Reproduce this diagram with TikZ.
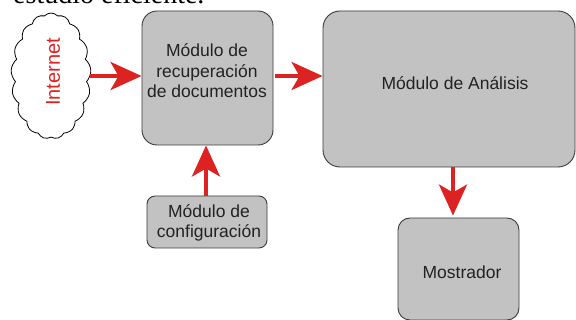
\documentclass[tikz,border=0pt]{standalone}
\usepackage{fontspec}
\setmainfont{Liberation Sans}
\newfontfamily\serifface{Liberation Serif}
\usetikzlibrary{arrows.meta,shapes.symbols}
\definecolor{arrred}{HTML}{DD2222}
\definecolor{boxgray}{HTML}{C2C2C2}
\definecolor{edgegray}{HTML}{3A3A3A}
\definecolor{txtgray}{HTML}{222222}
\tikzset{
  modbox/.style={draw=edgegray, line width=0.9pt, fill=boxgray, inner sep=0pt},
  modtext/.style={text=txtgray, align=center, font=\fontsize{17.5}{20.5}\selectfont, inner sep=0pt},
  arr/.style={draw=arrred, line width=4.2pt, -{Stealth[length=31pt, width=28pt, inset=8pt, fill=arrred]}},
}
\begin{document}
\begin{tikzpicture}[x=1pt, y=-1pt]
\clip (0,0) rectangle (576,320);
\useasboundingbox (0,0) rectangle (576,320);
\node[anchor=base west, inner sep=0pt, font=\serifface\fontsize{28}{30}\selectfont] (head) at (13,4) {estudio eficiente.};
% cloud
\node[shape=cloud, cloud puffs=17, cloud puff arc=95, cloud ignores aspect, draw=black, line width=0.8pt, fill=white, minimum width=80pt, minimum height=126pt, inner sep=0pt] (inet) at (51,76) {};
\node[rotate=90, text=arrred, font=\fontsize{20}{22}\selectfont, inner sep=0pt] (inetT) at (53,72) {Internet};
% boxes
\node[modbox, rounded corners=15pt, minimum width=131pt, minimum height=134pt] (rec) at (207.5,78) {};
\node[modtext] (recT) at (207,71) {Módulo de\\recuperación\\de documentos};
\node[modbox, rounded corners=17pt, minimum width=252pt, minimum height=156pt] (ana) at (449,89) {};
\node[modtext] (anaT) at (455,83) {Módulo de Análisis};
\node[modbox, rounded corners=8pt, minimum width=120pt, minimum height=52pt] (conf) at (207,222) {};
\node[modtext] (confT) at (209,223) {Módulo de\\configuración};
\node[modbox, rounded corners=12pt, minimum width=121pt, minimum height=102pt] (mos) at (458.5,269) {};
\node[modtext] (mosT) at (462,272) {Mostrador};
% anchor points on the box edges
\coordinate (a1s) at (inet.east);
\coordinate (a2s) at ([xshift=2pt]rec.east |- inet.east);
\coordinate (a4s) at ([xshift=4pt]ana.south);
% arrows
\draw[arr] (a1s) -- (a1s -| rec.west);
\draw[arr] (a2s) -- (a2s -| ana.west);
\draw[arr] ([xshift=-1pt]conf.north) -- ([xshift=-1.5pt]rec.south);
\draw[arr] (a4s) -- ([yshift=2pt]a4s |- mos.north);
\end{tikzpicture}
\end{document}
